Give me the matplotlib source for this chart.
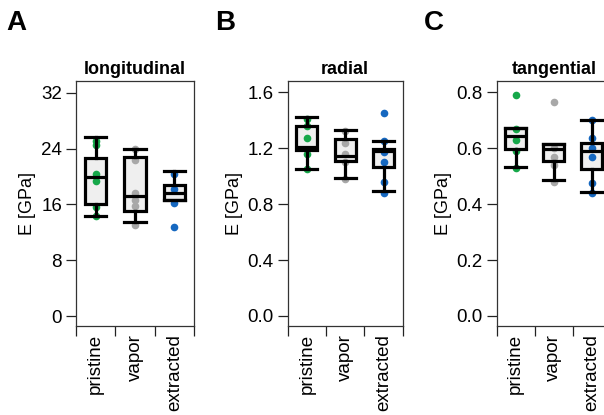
import matplotlib
matplotlib.use("Agg")
import matplotlib.pyplot as plt
from matplotlib.ticker import FormatStrFormatter

plt.rcParams['font.family'] = ['Liberation Sans', 'DejaVu Sans']

groups = ["pristine", "vapor", "extracted"]
colors = ["#16a84a", "#a8a8a8", "#1668c0"]

# individual measurements (E in GPa)
long_pristine = [25.1, 24.5, 20.3, 19.3, 15.6, 14.3]
long_vapor = [24.0, 22.3, 17.7, 16.7, 15.8, 13.1]
long_extracted = [20.3, 18.2, 16.2, 12.7]

rad_pristine = [1.41, 1.36, 1.27, 1.16, 1.05]
rad_vapor = [1.32, 1.24, 1.16, 1.10, 0.98]
rad_extracted = [1.45, 1.25, 1.175, 1.10, 0.96, 0.88]

tan_pristine = [0.79, 0.67, 0.63, 0.59, 0.53]
tan_vapor = [0.765, 0.60, 0.57, 0.54, 0.48]
tan_extracted = [0.70, 0.635, 0.60, 0.57, 0.475, 0.44]

# box statistics as drawn
long_q1 = [16.1, 15.0, 16.7]
long_med = [19.9, 17.2, 17.65]
long_q3 = [22.6, 22.8, 18.75]
long_lo = [14.4, 13.5, 16.7]
long_hi = [25.6, 24.0, 20.8]

rad_q1 = [1.185, 1.108, 1.068]
rad_med = [1.211, 1.145, 1.178]
rad_q3 = [1.362, 1.265, 1.195]
rad_lo = [1.051, 0.985, 0.895]
rad_hi = [1.423, 1.333, 1.254]

tan_q1 = [0.597, 0.554, 0.526]
tan_med = [0.645, 0.597, 0.59]
tan_q3 = [0.672, 0.614, 0.618]
tan_lo = [0.534, 0.487, 0.443]
tan_hi = [0.672, 0.614, 0.701]

fig = plt.figure(figsize=(6.04, 4.15), dpi=100)

panels = [
    ("A", "longitudinal", [long_pristine, long_vapor, long_extracted],
     (long_q1, long_med, long_q3, long_lo, long_hi),
     [0, 8, 16, 24, 32], (-1.43, 33.7), "%d", [0.1258, 0.2145, 0.1954, 0.5904], 0.010),
    ("B", "radial", [rad_pristine, rad_vapor, rad_extracted],
     (rad_q1, rad_med, rad_q3, rad_lo, rad_hi),
     [0, 0.4, 0.8, 1.2, 1.6], (-0.0715, 1.681), "%.1f", [0.4763, 0.2145, 0.1904, 0.5904], 0.356),
    ("C", "tangential", [tan_pristine, tan_vapor, tan_extracted],
     (tan_q1, tan_med, tan_q3, tan_lo, tan_hi),
     [0, 0.2, 0.4, 0.6, 0.8], (-0.0358, 0.840), "%.1f", [0.8224, 0.2145, 0.1890, 0.5904], 0.702),
]

for letter, title, pts, (q1, med, q3, lo, hi), yt, ylim, fmt, pos, lx in panels:
    ax = fig.add_axes(pos)
    stats = []
    for i in range(3):
        stats.append(dict(q1=q1[i], med=med[i], q3=q3[i], whislo=lo[i], whishi=hi[i], fliers=[]))
    pos_x = [1, 2, 3]
    # fill under the points
    ax.bxp(stats, positions=pos_x, widths=0.55, patch_artist=True, showcaps=False,
           boxprops=dict(facecolor="#efefef", edgecolor="none"),
           whiskerprops=dict(linewidth=0), medianprops=dict(linewidth=0),
           zorder=1)
    for i, vals in enumerate(pts):
        ax.plot([pos_x[i]] * len(vals), vals, "o", color=colors[i], ms=5.5,
                mec="none", zorder=2)
    lw = 2.3
    ax.bxp(stats, positions=pos_x, widths=0.55, patch_artist=True, capwidths=0.55,
           boxprops=dict(facecolor="none", edgecolor="black", linewidth=lw),
           whiskerprops=dict(color="black", linewidth=lw),
           capprops=dict(color="black", linewidth=lw),
           medianprops=dict(color="black", linewidth=lw),
           zorder=3)

    ax.set_xlim(0.5, 3.5)
    ax.set_ylim(*ylim)
    ax.set_yticks(yt)
    ax.yaxis.set_major_formatter(FormatStrFormatter(fmt))
    ax.set_xticks(pos_x)
    ax.set_xticklabels(groups, rotation=90)
    ax.set_xticks([0.5, 1.5, 2.5, 3.5], minor=True)
    ax.tick_params(axis="x", which="major", length=0, pad=6, labelsize=13.5)
    ax.tick_params(axis="x", which="minor", length=7, width=0.9, color="#222222")
    ax.tick_params(axis="y", length=7, width=0.9, color="#222222", pad=3, labelsize=13.5)
    for sp in ax.spines.values():
        sp.set_linewidth(0.9)
        sp.set_color("#333333")
    ax.set_ylabel("E [GPa]", fontsize=13, labelpad=3.5)
    ax.set_title(title, fontsize=13, fontweight="bold", pad=5)
    fig.text(lx, 0.975, letter, fontsize=20, fontweight="bold", va="top", ha="left")

fig.savefig("out.png", dpi=100)
